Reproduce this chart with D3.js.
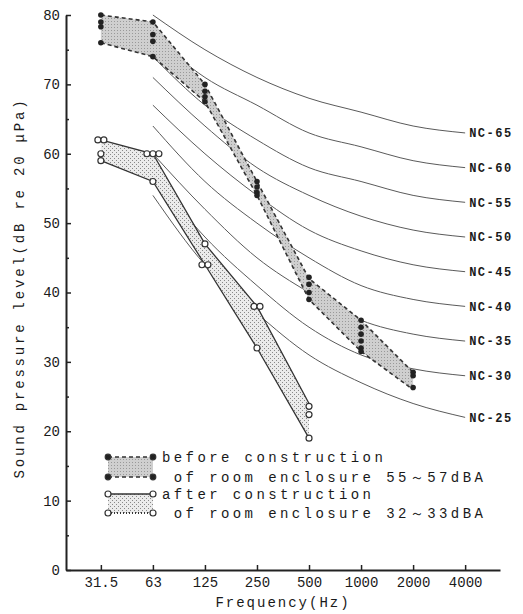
<!DOCTYPE html>
<html>
<head>
<meta charset="utf-8">
<script src="https://cdn.jsdelivr.net/npm/d3@7/dist/d3.min.js"></script>
<style>
  body { margin: 0; background: #fff; }
  svg text { font-family: "Liberation Mono", "DejaVu Sans Mono", monospace; fill: #1a1a1a; }
</style>
</head>
<body>
<svg id="chart" width="523" height="614"></svg>
<script>
// octave band centre frequencies (x categories)
const freqs = ['31.5', '63', '125', '250', '500', '1000', '2000', '4000'];
const yTicks = [0, 10, 20, 30, 40, 50, 60, 70, 80];

// NC reference curves, 63 Hz .. 4000 Hz
const ncFreqs = ['63', '125', '250', '500', '1000', '2000', '4000'];
const ncNames = ['NC-65', 'NC-60', 'NC-55', 'NC-50', 'NC-45', 'NC-40', 'NC-35', 'NC-30', 'NC-25'];
const ncLevels = [
  [80, 75, 71, 68, 66, 64, 63],
  [77, 71, 67, 63, 61, 59, 58],
  [74, 67, 62, 58, 56, 54, 53],
  [71, 64, 58, 54, 51, 49, 48],
  [67, 60, 54, 49, 46, 44, 43],
  [64, 56, 50, 45, 41, 39, 38],
  [60, 52, 45, 40, 36, 34, 33],
  [57, 48, 41, 35, 31, 29, 28],
  [54, 44, 37, 31, 27, 24, 22]
];

// before construction: range of measured levels
const beforeFreqs = ['31.5', '63', '125', '250', '500', '1000', '2000'];
const beforeUpper = [80, 79, 70, 56, 42, 36, 28.5];
const beforeLower = [76, 74, 67.5, 54, 39, 31.5, 26];
// individual readings (filled dots)
const beforeReadings = [
  ['31.5', 80], ['31.5', 79], ['31.5', 78.3], ['31.5', 76],
  ['63', 79], ['63', 77.2], ['63', 76.2], ['63', 74],
  ['125', 70], ['125', 69], ['125', 68.2], ['125', 67.5],
  ['250', 56], ['250', 55.2], ['250', 54.4], ['250', 54],
  ['500', 42.2], ['500', 41.2], ['500', 40], ['500', 39],
  ['1000', 36], ['1000', 35], ['1000', 34], ['1000', 33], ['1000', 32], ['1000', 31.5],
  ['2000', 28.5], ['2000', 28], ['2000', 26.3]
];

// after construction
const afterFreqs = ['31.5', '63', '125', '250', '500'];
const afterUpper = [62, 60, 47, 38, 24];
const afterLower = [59, 56, 44, 32, 19];
// individual readings (open circles): [freq, level, count side by side]
const afterReadings = [
  ['31.5', 62, 2], ['31.5', 60, 1], ['31.5', 59, 1],
  ['63', 60, 3], ['63', 56, 1],
  ['125', 47, 1], ['125', 44, 2],
  ['250', 38, 2], ['250', 32, 1],
  ['500', 23.6, 1], ['500', 22.4, 1], ['500', 19, 1]
];

const legendTexts = [
  'before construction',
  ' of room enclosure 55～57dBA',
  'after construction',
  ' of room enclosure 32～33dBA'
];

const svg = d3.select('#chart');

const x = d3.scalePoint().domain(freqs).range([66, 500]).padding(0.67);
const y = d3.scaleLinear().domain([0, 80]).range([570, 15]);

// fill patterns
const defs = svg.append('defs');
const pb = defs.append('pattern').attr('id', 'beforeFill')
  .attr('width', 3).attr('height', 3).attr('patternUnits', 'userSpaceOnUse');
pb.append('rect').attr('width', 3).attr('height', 3).attr('fill', '#cfcfcf');
pb.append('rect').attr('width', 1).attr('height', 1).attr('fill', '#999');

const pa = defs.append('pattern').attr('id', 'afterFill')
  .attr('width', 4).attr('height', 4).attr('patternUnits', 'userSpaceOnUse');
pa.append('rect').attr('width', 4).attr('height', 4).attr('fill', '#ebebeb');
pa.append('rect').attr('width', 1).attr('height', 1).attr('fill', '#888');
pa.append('rect').attr('x', 2).attr('y', 2).attr('width', 1).attr('height', 1).attr('fill', '#888');

// NC curves
const ncLine = d3.line()
  .x(d => x(d[0]))
  .y(d => y(d[1]))
  .curve(d3.curveMonotoneX);

const nc = svg.append('g').attr('class', 'nc');
ncNames.forEach((name, i) => {
  const pts = ncFreqs.map((f, j) => [f, ncLevels[i][j]]);
  nc.append('path')
    .attr('d', ncLine(pts))
    .attr('fill', 'none')
    .attr('stroke', '#5a5a5a')
    .attr('stroke-width', 1);
  nc.append('text')
    .attr('x', x('4000') + 4)
    .attr('y', y(ncLevels[i][ncLevels[i].length - 1]))
    .attr('dy', '0.35em')
    .attr('font-size', 12)
    .attr('font-weight', 'bold')
    .attr('letter-spacing', 1.5)
    .text(name);
});

// bands
const band = d3.area()
  .x(d => x(d[0]))
  .y0(d => y(d[2]))
  .y1(d => y(d[1]));
const line = d3.line().x(d => x(d[0])).y(d => y(d[1]));

const beforeData = beforeFreqs.map((f, i) => [f, beforeUpper[i], beforeLower[i]]);
const afterData = afterFreqs.map((f, i) => [f, afterUpper[i], afterLower[i]]);

svg.append('path').attr('d', band(afterData)).attr('fill', 'url(#afterFill)');
svg.append('path').attr('d', band(beforeData)).attr('fill', 'url(#beforeFill)');

[afterUpper, afterLower].forEach(vals => {
  svg.append('path')
    .attr('d', line(afterFreqs.map((f, i) => [f, vals[i]])))
    .attr('fill', 'none')
    .attr('stroke', '#333')
    .attr('stroke-width', 1.3);
});
[beforeUpper, beforeLower].forEach(vals => {
  svg.append('path')
    .attr('d', line(beforeFreqs.map((f, i) => [f, vals[i]])))
    .attr('fill', 'none')
    .attr('stroke', '#333')
    .attr('stroke-width', 1.6)
    .attr('stroke-dasharray', '4,3');
});

// readings
svg.append('g').selectAll('circle')
  .data(beforeReadings)
  .join('circle')
  .attr('cx', d => x(d[0]))
  .attr('cy', d => y(d[1]))
  .attr('r', 2.8)
  .attr('fill', '#222');

const rOpen = 3;
const afterDots = [];
afterReadings.forEach(d => {
  for (let k = 0; k < d[2]; k++) {
    afterDots.push({f: d[0], v: d[1], off: (k - (d[2] - 1) / 2) * rOpen * 2});
  }
});
svg.append('g').selectAll('circle')
  .data(afterDots)
  .join('circle')
  .attr('cx', d => x(d.f) + d.off)
  .attr('cy', d => y(d.v))
  .attr('r', rOpen)
  .attr('fill', '#fff')
  .attr('stroke', '#333')
  .attr('stroke-width', 1.2);

// axes
const yAxis = d3.axisLeft(y).tickValues(yTicks).tickSize(-5).tickSizeOuter(0).tickPadding(6);
const yMinor = d3.axisLeft(y).tickValues(d3.range(5, 80, 10)).tickSize(-3).tickFormat('');
const xAxis = d3.axisBottom(x).tickSize(-5).tickSizeOuter(0).tickPadding(7);

const gy = svg.append('g').attr('transform', 'translate(66,0)').call(yAxis);
svg.append('g').attr('transform', 'translate(66,0)').call(yMinor)
  .select('.domain').remove();
const gx = svg.append('g').attr('transform', 'translate(0,570)').call(xAxis);

[gy, gx].forEach(g => {
  g.select('.domain').attr('stroke', '#222').attr('stroke-width', 2);
  g.selectAll('.tick text')
    .attr('font-family', '"Liberation Mono", monospace')
    .attr('font-size', 14)
    .attr('fill', '#1a1a1a');
});
svg.selectAll('.tick line').attr('stroke', '#222').attr('stroke-width', 1.5);

svg.append('text')
  .attr('x', 283)
  .attr('y', 607)
  .attr('text-anchor', 'middle')
  .attr('font-size', 14)
  .attr('letter-spacing', 2)
  .text('Frequency(Hz)');

svg.append('text')
  .attr('transform', 'translate(24,288) rotate(-90)')
  .attr('text-anchor', 'middle')
  .attr('font-size', 14)
  .attr('letter-spacing', 2.8)
  .text('Sound pressure level(dB re 20 μPa)');

// legend
const lg = svg.append('g').attr('class', 'legend');
const lx0 = 108, lx1 = 153;
const rowY = [457, 477, 494, 513];
lg.append('rect').attr('x', lx0).attr('y', rowY[0]).attr('width', lx1 - lx0)
  .attr('height', rowY[1] - rowY[0]).attr('fill', 'url(#beforeFill)');
lg.append('rect').attr('x', lx0).attr('y', rowY[2]).attr('width', lx1 - lx0)
  .attr('height', rowY[3] - rowY[2]).attr('fill', 'url(#afterFill)');
rowY.forEach((ry, i) => {
  const before = i < 2;
  lg.append('line')
    .attr('x1', lx0).attr('x2', lx1).attr('y1', ry).attr('y2', ry)
    .attr('stroke', '#333')
    .attr('stroke-width', before ? 1.6 : (i === 2 ? 1.3 : 1.8))
    .attr('stroke-dasharray', before ? '4,3' : (i === 2 ? null : '1,2'));
  [lx0, lx1].forEach(cx => {
    lg.append('circle')
      .attr('cx', cx).attr('cy', ry).attr('r', before ? 2.8 : 3)
      .attr('fill', before ? '#222' : '#fff')
      .attr('stroke', '#333').attr('stroke-width', 1.2);
  });
  lg.append('text')
    .attr('x', lx1 + 9)
    .attr('y', ry)
    .attr('dy', '0.35em')
    .attr('font-size', 14)
    .attr('letter-spacing', 3.4)
    .style('white-space', 'pre')
    .text(legendTexts[i]);
});
</script>
</body>
</html>
